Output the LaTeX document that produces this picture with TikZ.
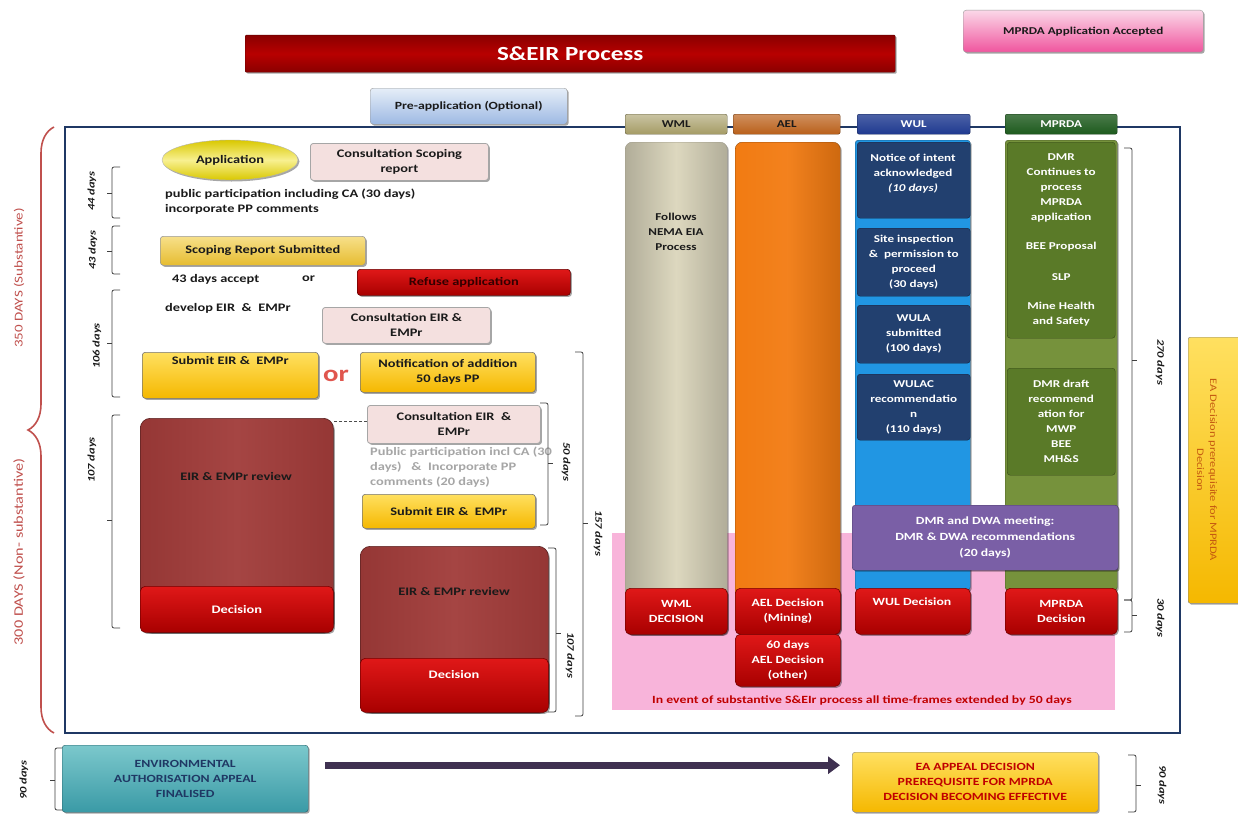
\documentclass[tikz,border=0pt]{standalone}
\usepackage{fontspec}
\setmainfont{Carlito}[FakeStretch=1.25]
\usetikzlibrary{shapes.geometric,decorations.pathreplacing,shadows,arrows.meta}

\definecolor{titleA}{HTML}{8A0000}
\definecolor{titleB}{HTML}{B80000}
\definecolor{pinkA}{HTML}{FBD8E8}
\definecolor{pinkB}{HTML}{F0559E}
\definecolor{blueA}{HTML}{E6EEF8}
\definecolor{blueB}{HTML}{9DB9E3}
\definecolor{frameC}{HTML}{1F3864}
\definecolor{braceC}{HTML}{C0504D}
\definecolor{yelA}{HTML}{F8F090}
\definecolor{yelB}{HTML}{D9C800}
\definecolor{consF}{HTML}{F4E0DF}
\definecolor{scopA}{HTML}{F7E08A}
\definecolor{scopB}{HTML}{E6BC30}
\definecolor{goldA}{HTML}{FFE060}
\definecolor{goldB}{HTML}{F5B800}
\definecolor{redA}{HTML}{E01818}
\definecolor{redB}{HTML}{A80000}
\definecolor{brownC}{HTML}{953735}
\definecolor{brownL}{HTML}{A54543}
\definecolor{wmlH}{HTML}{A59C65}
\definecolor{wmlB}{HTML}{DDD8BF}
\definecolor{aelH}{HTML}{BA601A}
\definecolor{aelB}{HTML}{F27B12}
\definecolor{wulH}{HTML}{1F3A90}
\definecolor{wulB}{HTML}{2196E3}
\definecolor{wulI}{HTML}{22406F}
\definecolor{mprH}{HTML}{1D5A1D}
\definecolor{mprB}{HTML}{76923C}
\definecolor{mprI}{HTML}{5A7A28}
\definecolor{purpC}{HTML}{7A5FA6}
\definecolor{pinkR}{HTML}{F8B4DA}
\definecolor{tealA}{HTML}{7CC8CC}
\definecolor{tealB}{HTML}{3A9AA6}
\definecolor{arrowC}{HTML}{3F3151}
\definecolor{txt}{HTML}{1A1A1A}
\definecolor{grayT}{HTML}{A6A6A6}
\definecolor{darkR}{HTML}{C00000}
\definecolor{orT}{HTML}{C55A11}
\definecolor{orC}{HTML}{E0564E}

\newcommand\brkLeft[4]{\draw[brk] ({#1+8},#2) -- (#1,#2) -- (#1,#3) -- ({#1+8},#3); \draw[brk] (#1,#4) -- ({#1-5},#4);}
\newcommand\brkRight[4]{\draw[brk] ({#1-8},#2) -- (#1,#2) -- (#1,#3) -- ({#1-8},#3); \draw[brk] (#1,#4) -- ({#1+5},#4);}
\newcommand\fbase{\bfseries\fontsize{11.5}{15}\selectfont}
\newcommand\fcol{\bfseries\fontsize{10.5}{15}\selectfont}

\tikzset{
  sz/.style 2 args={minimum width=#1, minimum height=#2},
  box/.style={anchor=north west, align=center, inner sep=1pt, font=\fbase, text=txt, rounded corners=3pt},
  shd/.style={drop shadow={shadow xshift=1.5pt, shadow yshift=-1.5pt, opacity=0.35, fill=black}},
  consult/.style={box, shd, fill=consF, draw=gray!70, line width=0.8pt},
  goldbox/.style={box, shd, top color=goldA, bottom color=goldB, draw=black!55, line width=0.6pt},
  redbox/.style={box, shd, top color=redA, bottom color=redB, draw=redB!70!black, line width=0.6pt, rounded corners=5pt, text=white, font=\bfseries\fontsize{11}{15}\selectfont},
  brownbox/.style={box, shd, left color=brownC, right color=brownC, middle color=brownL, draw=brownC!60!black, line width=0.6pt, rounded corners=10pt},
  colt/.style={align=center, font=\fcol, text=white},
  hdr/.style={box, sz={#1}{20}, rounded corners=2pt, font=\bfseries\fontsize{10.5}{12}\selectfont},
  plain/.style={align=left, font=\fbase, text=txt, inner sep=0pt},
  brk/.style={draw=black!75, line width=0.8pt, rounded corners=2pt},
  days/.style={font=\bfseries\itshape\fontsize{10}{12}\selectfont, text=txt, inner sep=0pt},
}

\begin{document}
\begin{tikzpicture}[x=1pt,y=-1pt]
\useasboundingbox (0,0) rectangle (1238,816);
\fill[white] (0,0) rectangle (1238,816);

% ---- top
\node[box, sz={650}{37}, top color=titleA, bottom color=titleA, middle color=titleB, draw=titleA!70!black, rounded corners=1pt, text=white, font=\bfseries\fontsize{20}{22}\selectfont, shd] (title) at (245,35) {S\&EIR Process};
\node[box, sz={240}{42}, top color=pinkA, bottom color=pinkB, draw=gray!80, shd, font=\bfseries\fontsize{10.5}{12}\selectfont] (mprdaacc) at (963,10) {MPRDA Application Accepted};
\node[box, sz={197}{36}, top color=blueA, bottom color=blueB, draw=gray!80, shd, font=\bfseries\fontsize{11}{12}\selectfont] (preapp) at (370,88) {Pre-application (Optional)};

% ---- frame and braces
\draw[frameC, line width=2.5pt] (65,127) rectangle (1180,733);
\draw[braceC, line width=1.6pt, decorate, decoration={brace, amplitude=26pt, mirror}] (54,127) -- (54,733);
\node[rotate=90, text=braceC, font=\fontsize{12}{12}\selectfont] (sub350) at (19,278) {350 DAYS (Substantive)};
\node[rotate=90, text=braceC, font=\fontsize{13}{13}\selectfont] (non300) at (19,552) {300 DAYS (Non- substantive)};

% ---- pink background region
\node[anchor=north west, fill=pinkR, sz={503}{177}, inner sep=0pt] (pinkbg) at (612,533) {};
\node[text=darkR, font=\bfseries\fontsize{11}{12}\selectfont] (extnote) at (862,700) {In event of substantive S\&EIr process all time-frames extended by 50 days};

% ---- left process column
\node[ellipse, sz={136}{40}, inner sep=0pt, top color=yelB, bottom color=yelB, middle color=yelA, draw=gray!60, shd, font=\fbase, text=txt] (app) at (230,160) {Application};
\node[consult, sz={178}{37}] (cscop) at (310,143) {Consultation Scoping\\report};
\node[plain, anchor=north west] (pptext) at (165,189) {public participation including CA (30 days)\\incorporate PP comments};
\node[box, shd, sz={205}{29}, top color=scopA, bottom color=scopB, draw=black!40, line width=0.6pt] (scop) at (160,236) {Scoping Report Submitted};
\node[plain, anchor=west] (acc43) at (172,279) {43 days accept};
\node[plain, anchor=west] (or1) at (302,279) {or};
\node[box, shd, sz={213}{26}, top color=redA, bottom color=redB, draw=redB!60!black, line width=0.6pt, text=black!80!red] (refuse) at (357,269) {Refuse application};
\node[plain, anchor=west] (dev) at (165,308) {develop EIR\ \ \&\ \ EMPr};
\node[consult, sz={168}{36}] (ceir1) at (322,307) {Consultation EIR \&\\EMPr};
\node[goldbox, sz={176}{46}] (sub1) at (142,352) {};
\node[box, anchor=north] (sub1t) at ([yshift=-3pt]sub1.north) {Submit EIR \&\ \ EMPr};
\node[text=orC, font=\bfseries\fontsize{23}{24}\selectfont, inner sep=0pt] (orbig) at (336,376) {or};
\node[goldbox, sz={175}{40}] (notif) at (360,352) {Notification of addition\\50 days PP};

\node[brownbox, sz={193}{214}] (rev1) at (140,418) {};
\node[font=\fbase, text=txt] (rev1t) at (236,477) {EIR \& EMPr review};
\node[redbox, sz={193}{46}, font=\fbase] (dec1) at (140,586) {Decision};

\node[consult, sz={173}{38}] (ceir2) at (367,405) {Consultation EIR\ \ \&\\EMPr};
\draw[black!70, densely dashed, line width=0.7pt] ([yshift=3pt]ceir2.west) -- ([yshift=3pt]rev1.east |- ceir2.west);
\node[plain, anchor=north west, text=grayT] (ppgray) at (370,447) {Public participation incl CA (30\\days)\ \ \ \& \ Incorporate PP\\comments (20 days)};
\node[goldbox, sz={173}{34}] (sub2) at (362,494) {Submit EIR \&\ \ EMPr};

\node[brownbox, sz={188}{166}] (rev2) at (360,546) {};
\node[font=\fbase, text=txt] (rev2t) at (454,591) {EIR \& EMPr review};
\node[redbox, sz={188}{54}] (dec2) at (360,658) {};
\node[font=\fbase, text=white] (dec2t) at (454,674) {Decision};

% ---- left brackets
\brkLeft{112}{167}{218}{193}
\node[days, rotate=90] (d44) at (92,191) {44 days};
\brkLeft{112}{226}{274}{251}
\node[days, rotate=90] (d43) at (93,250) {43 days};
\brkLeft{112}{290}{397}{343}
\node[days, rotate=90] (d106) at (97,346) {106 days};
\brkLeft{112}{415}{628}{520}
\node[days, rotate=90] (d107) at (92,460) {107 days};

% ---- right brackets of left part
\brkRight{548}{403}{525}{463}
\node[days, rotate=-90] (d50) at (566,462) {50 days};
\brkRight{583}{352}{716}{523}
\node[days, rotate=-90] (d157) at (598,533) {157 days};
\brkRight{556}{548}{712}{633}
\node[days, rotate=-90] (d107r) at (570,655) {107 days};

% ---- column headers
\node[hdr=102, top color=wmlH!60!white, bottom color=wmlH, draw=wmlH!60!black] (wmlh) at (625,114) {WML};
\node[hdr=107, top color=aelH!70!white, bottom color=aelH, draw=aelH!60!black] (aelh) at (733,114) {AEL};
\node[hdr=113, top color=wulH!80!white, bottom color=wulH, draw=wulH!60!black, text=white] (wulh) at (857,114) {WUL};
\node[hdr=112, top color=mprH!80!white, bottom color=mprH, draw=mprH!60!black, text=white] (mprh) at (1005,114) {MPRDA};

% ---- columns
\node[box, shd, sz={102}{492}, left color=wmlB!80!black, right color=wmlB!80!black, middle color=wmlB, draw=wmlB!70!black, rounded corners=7pt] (wml) at (625,142) {};
\node[colt, text=txt] (wmlt) at (676,232) {Follows\\NEMA EIA\\Process};
\node[box, shd, sz={105}{492}, left color=aelB, right color=aelB!85!black, middle color=aelB!95!white, draw=aelB!60!black, rounded corners=7pt] (ael) at (735,142) {};
\node[box, shd, sz={115}{450}, fill=wulB, draw=wulB!60!black] (wul) at (855,140) {};
\node[box, shd, sz={112}{450}, fill=mprB, draw=mprB!60!black] (mpr) at (1005,140) {};

% WUL inner boxes
\node[box, sz={113}{76}, fill=wulI, draw=wulI!60!black] (wul1) at (857,142) {};
\node[colt] (wul1t) at (913,174) {Notice of intent\\acknowledged\\\textit{(10 days)}};
\node[box, sz={113}{68}, fill=wulI, draw=wulI!60!black, colt] (wul2) at (857,228) {Site inspection\\\&\ \ permission to\\proceed\\(30 days)};
\node[box, sz={113}{58}, fill=wulI, draw=wulI!60!black, colt] (wul3) at (857,305) {WULA\\submitted\\(100 days)};
\node[box, sz={113}{66}, fill=wulI, draw=wulI!60!black, colt] (wul4) at (857,374) {WULAC\\recommendatio\\n\\(110 days)};

% MPRDA inner boxes
\node[box, sz={108}{196}, fill=mprI, draw=mprI!60!black, colt] (mpr1) at (1007,142) {DMR\\Continues to\\process\\MPRDA\\application\\[14pt]BEE Proposal\\[16pt]SLP\\[14pt]Mine Health\\and Safety};
\node[box, sz={108}{107}, fill=mprI, draw=mprI!60!black, colt] (mpr2) at (1007,368) {DMR draft\\recommend\\ation for\\MWP\\BEE\\MH\&S};

% purple meeting box
\node[box, shd, sz={266}{65}, fill=purpC, draw=purpC!60!black, colt, font=\bfseries\fontsize{11}{16}\selectfont] (meet) at (852,505) {DMR and DWA meeting:\\DMR \& DWA recommendations\\(20 days)};

% decisions
\node[redbox, sz={102}{46}] (wmld) at (625,588) {WML\\DECISION};
\node[redbox, sz={105}{46}] (aeld) at (735,588) {AEL Decision\\(Mining)};
\node[redbox, sz={105}{52}] (aelo) at (735,634) {60 days\\AEL Decision\\(other)};
\node[redbox, sz={115}{46}] (wuld) at (855,588) {};
\node[font=\bfseries\fontsize{11}{12}\selectfont, text=white] (wuldt) at (912,602) {WUL Decision};
\node[redbox, sz={112}{46}] (mprd) at (1005,588) {MPRDA\\Decision};

% right brackets
\brkRight{1132}{148}{600}{360}
\node[days, rotate=-90] (d270) at (1160,362) {270 days};
\brkRight{1132}{600}{632}{615}
\node[days, rotate=-90] (d30) at (1160,618) {30 days};

% EA decision prerequisite box (cut by right edge)
\node[box, shd, sz={60}{266}, top color=goldA, bottom color=goldB, draw=black!50, rounded corners=2pt] (eadec) at (1188,337) {};
\node[rotate=-90, align=center, text=orT, font=\fontsize{10}{13}\selectfont] (eadect) at (1207,470) {EA Decision prerequisite for MPRDA\\Decision};

% ---- bottom row
\brkLeft{55}{748}{810}{780}
\node[days, rotate=90] (d90l) at (24,780) {90 days};
\node[box, shd, sz={246}{67}, top color=tealA, bottom color=tealB, draw=tealB!60!black, text=frameC, font=\bfseries\fontsize{11}{15}\selectfont] (eaf) at (62,745) {ENVIRONMENTAL\\AUTHORISATION APPEAL\\FINALISED};
\node[box, shd, sz={246}{60}, top color=goldA, bottom color=goldB, draw=black!50, text=darkR, font=\bfseries\fontsize{11}{15}\selectfont] (eaa) at (852,752) {EA APPEAL DECISION\\PREREQUISITE FOR MPRDA\\DECISION BECOMING EFFECTIVE};
\draw[arrowC, line width=7pt, -{Triangle[length=12pt,width=17pt]}] ([shift={(17,-13.5)}]eaf.east) -- ([shift={(-12,-17)}]eaa.west);
\brkRight{1136}{755}{812}{785}
\node[days, rotate=-90] (d90r) at (1162,785) {90 days};
\end{tikzpicture}
\end{document}
